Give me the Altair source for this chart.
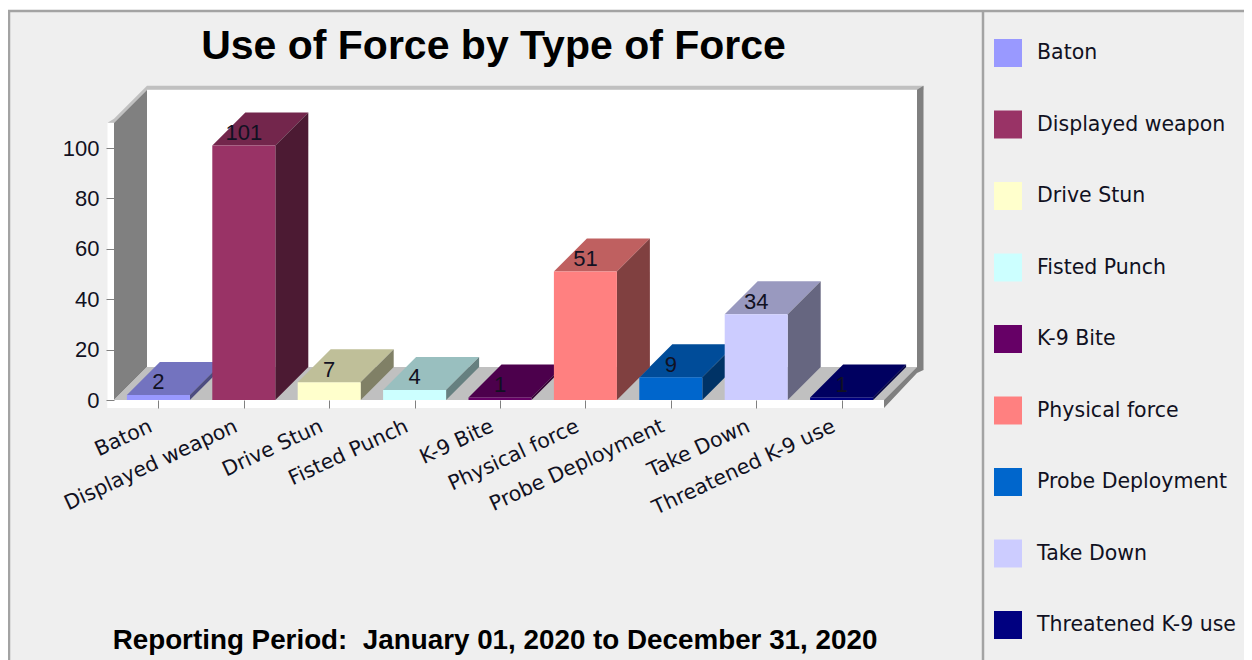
import json
import altair as alt
import pandas as pd

categories = ["Baton", "Displayed weapon", "Drive Stun", "Fisted Punch", "K-9 Bite",
              "Physical force", "Probe Deployment", "Take Down", "Threatened K-9 use"]
values = [2, 101, 7, 4, 1, 51, 9, 34, 1]
colors = ["#9999ff", "#993366", "#ffffcc", "#ccffff", "#660066",
          "#ff8080", "#0066cc", "#ccccff", "#000080"]
y_ticks = [0, 20, 40, 60, 80, 100]
title_text = "Use of Force by Type of Force"
footer_text = "Reporting Period:\u00a0 January 01, 2020 to December 31, 2020"

W, H = 1236, 652
FONT = "DejaVu Sans"
BOLD = "Liberation Sans"
FS = 20.5
NUM_FS = 22
INK = "#111122"
PX_X, PX_Y = 85.4, 2.52          # pixels per category / per value unit
X0_PAGE, Y0_PAGE = 158.4, 400.0  # page position of category 0 / value 0

xscale = alt.Scale(domain=[(8 - X0_PAGE) / PX_X, (8 + W - X0_PAGE) / PX_X], range=[0, W], nice=False, zero=False)
yscale = alt.Scale(domain=[(Y0_PAGE - 8 - H) / PX_Y, (Y0_PAGE - 8) / PX_Y], range=[H, 0], nice=False, zero=False)

BAR = 31.5 / PX_X
DX, DY = 33 / PX_X, 33 / PX_Y
AX_MAX = 110
XL, XR = (114 - X0_PAGE) / PX_X, (884 - X0_PAGE) / PX_X
TX, TY = 6.5 / PX_X, 8 / PX_Y  # thickness of the frame strips

x_axis = alt.Axis(
    values=list(range(len(categories))), title=None, orient="bottom", offset=-(H - (Y0_PAGE - 8)),
    domain=False, grid=False, tickSize=8, tickColor="#808080", tickWidth=1, zindex=1,
    labelExpr=json.dumps(categories) + "[datum.value]", labelAngle=-25, labelAlign="right",
    labelBaseline="middle", labelPadding=17, labelOffset=-8, labelFont=FONT, labelFontSize=FS, labelColor=INK,
    labelOverlap=False, labelFlush=False, labelBound=False, labelLimit=400)
y_axis = alt.Axis(
    values=y_ticks, title=None, orient="left", offset=-(114 - 8), domain=False, grid=False,
    tickSize=8, tickColor="#808080", tickWidth=1, zindex=1, labelPadding=7, labelFont=BOLD,
    labelFontSize=NUM_FS, labelColor=INK, labelOverlap=False, labelFlush=False, labelBound=False)


def shade(hex_color, f):
    r, g, b = (int(hex_color[i:i + 2], 16) for i in (1, 3, 5))
    return "#%02x%02x%02x" % (round(r * f), round(g * f), round(b * f))


def poly(rows, name, color, pts):
    for x, lo, hi in pts:
        rows.append(dict(part=name, fillc=color, px=x, lo=lo, hi=hi))


chrome = []
poly(chrome, "a_leftstrip", "#ffffff", [(XL - TX, -TY, AX_MAX), (XL, -TY, AX_MAX)])
poly(chrome, "a_bottom", "#ffffff", [(XL - TX, -TY, 0), (XR, -TY, 0)])
poly(chrome, "b_back", "#ffffff", [(XL + DX, DY, AX_MAX + DY), (XR + DX, DY, AX_MAX + DY)])
poly(chrome, "c_leftwall", "#808080", [(XL, 0, AX_MAX), (XL + DX, DY, AX_MAX + DY)])
poly(chrome, "d_floor", "#c0c0c0", [(XL, 0, 0), (XL + DX, 0, DY), (XR, 0, DY), (XR + DX, DY, DY)])
poly(chrome, "e_bevel", "#c0c0c0", [(XL - TX, AX_MAX, AX_MAX), (XL, AX_MAX, AX_MAX + 4 / PX_Y),
                                    (XL + DX, AX_MAX + DY, AX_MAX + DY + 4 / PX_Y)])
poly(chrome, "f_top", "#c0c0c0", [(XL + DX, AX_MAX + DY, AX_MAX + DY + 4 / PX_Y),
                                  (XR + DX + TX, AX_MAX + DY, AX_MAX + DY + 4 / PX_Y)])
poly(chrome, "g_right", "#808080", [(XR + DX, DY - 3 / PX_Y, AX_MAX + DY),
                                    (XR + DX + TX, DY - 3 / PX_Y, AX_MAX + DY + 4 / PX_Y)])
poly(chrome, "h_diag", "#808080", [(XR, -TY, 0), (XR + DX, DY - TY + 2 / PX_Y, DY),
                                   (XR + DX + TX, DY - 3 / PX_Y, DY - 3 / PX_Y)])

bars = pd.DataFrame(dict(cat=categories, i=range(len(categories)), v=values))
bars["xl"] = bars.i - BAR
bars["xr"] = bars.i + BAR
bars["base"] = 0
bars["lab"] = bars.v + 12.5 / PX_Y

tops, sides = [], []
for c, col, i, v in zip(categories, colors, range(len(categories)), values):
    xl, xr = i - BAR, i + BAR
    poly(tops, c, shade(col, .75), [(xl, v, v), (xl + DX, v, v + DY), (xr, v, v + DY), (xr + DX, v + DY, v + DY)])
    poly(sides, c, shade(col, .5), [(xr, 0, v), (xr + DX, DY, v + DY)])


def faces(rows):
    return alt.Chart(pd.DataFrame(rows)).mark_area(orient="vertical").encode(
        x=alt.X("px:Q", scale=xscale, axis=x_axis),
        y=alt.Y("lo:Q", scale=yscale, axis=y_axis),
        y2="hi:Q",
        color=alt.Color("fillc:N", scale=None),
        detail="part:N",
    )


one = pd.DataFrame({"a": [0]})
panel = alt.Chart(one).mark_rect(fill="#efefef", stroke="#a3a3a3", strokeWidth=2.5).encode(
    x=alt.value(1), x2=alt.value(W + 20), y=alt.value(3), y2=alt.value(H + 20))
divider = alt.Chart(one).mark_rule(stroke="#a3a3a3", strokeWidth=2.5).encode(
    x=alt.value(975), y=alt.value(3), y2=alt.value(H))

front = alt.Chart(bars).mark_rect(opacity=1).encode(
    x=alt.X("xl:Q", scale=xscale, axis=x_axis),
    x2="xr:Q",
    y=alt.Y("base:Q", scale=yscale, axis=y_axis),
    y2="v:Q",
    fill=alt.Fill("cat:N", scale=alt.Scale(domain=categories, range=colors), legend=alt.Legend(
        title=None, orient="none", legendX=986, legendY=31, symbolType="square", symbolSize=784,
        symbolStrokeWidth=0, symbolOpacity=1, rowPadding=43.5, labelOffset=15, labelFont=FONT,
        labelFontSize=FS, labelColor=INK, labelLimit=300, values=categories)),
)

value_labels = alt.Chart(bars).mark_text(font=BOLD, fontSize=NUM_FS, color=INK, baseline="middle").encode(
    x=alt.X("i:Q", scale=xscale, axis=x_axis),
    y=alt.Y("lab:Q", scale=yscale, axis=y_axis),
    text="v:Q",
)

title = alt.Chart(pd.DataFrame({"t": [title_text]})).mark_text(
    font=BOLD, fontWeight="bold", fontSize=41, color="#000000", align="center", baseline="alphabetic"
).encode(x=alt.value(493.5 - 8), y=alt.value(59 - 8), text="t:N")

footer = alt.Chart(pd.DataFrame({"t": [footer_text]})).mark_text(
    font=BOLD, fontWeight="bold", fontSize=27.8, color="#000000", align="center", baseline="alphabetic"
).encode(x=alt.value(495 - 8), y=alt.value(649 - 8), text="t:N")

chart = alt.layer(panel, divider, faces(chrome), faces(tops), faces(sides), front, value_labels, title, footer).properties(
    width=W, height=H, padding=0, background="#ffffff",
    autosize=alt.AutoSizeParams(type="none"),
).configure_view(stroke=None)

chart.save("out.html", embed_options={"renderer": "svg", "actions": False})
